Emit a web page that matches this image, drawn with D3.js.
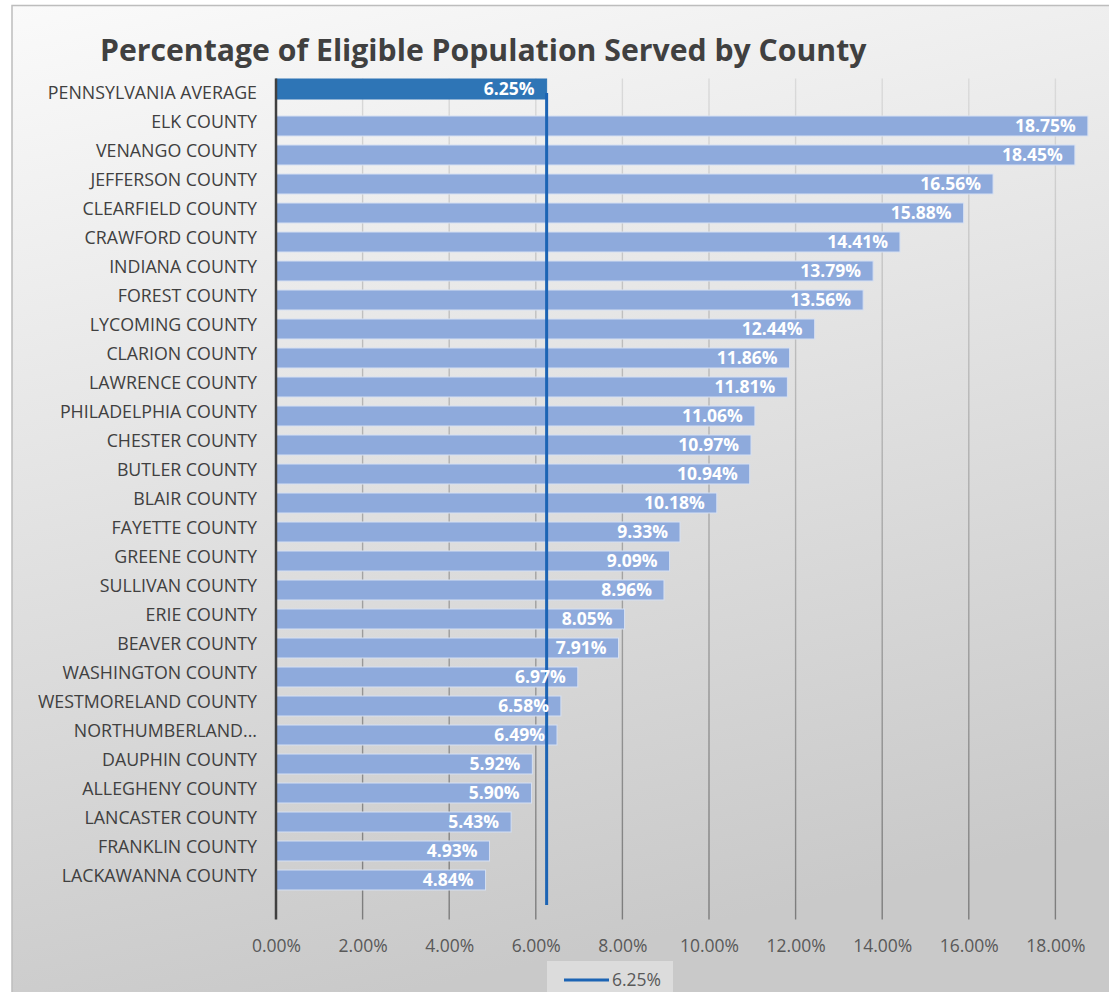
<!DOCTYPE html>
<html><head><meta charset="utf-8">
<script src="https://cdn.jsdelivr.net/npm/d3@7"></script>
<style>html,body{margin:0;padding:0;background:#fff;}svg{display:block;}</style>
</head><body>
<svg id="chart" width="1109" height="992"></svg>
<script>
// ---- data ----
const categories = ["PENNSYLVANIA AVERAGE","ELK COUNTY","VENANGO COUNTY","JEFFERSON COUNTY","CLEARFIELD COUNTY","CRAWFORD COUNTY","INDIANA COUNTY","FOREST COUNTY","LYCOMING COUNTY","CLARION COUNTY","LAWRENCE COUNTY","PHILADELPHIA COUNTY","CHESTER COUNTY","BUTLER COUNTY","BLAIR COUNTY","FAYETTE COUNTY","GREENE COUNTY","SULLIVAN COUNTY","ERIE COUNTY","BEAVER COUNTY","WASHINGTON COUNTY","WESTMORELAND COUNTY","NORTHUMBERLAND...","DAUPHIN COUNTY","ALLEGHENY COUNTY","LANCASTER COUNTY","FRANKLIN COUNTY","LACKAWANNA COUNTY"];
const averageSeries = [6.25];            // value for PENNSYLVANIA AVERAGE
const countyValues = [18.75,18.45,16.56,15.88,14.41,13.79,13.56,12.44,11.86,11.81,11.06,10.97,10.94,10.18,9.33,9.09,8.96,8.05,7.91,6.97,6.58,6.49,5.92,5.90,5.43,4.93,4.84];
const xTicks = [0,2,4,6,8,10,12,14,16,18,20];
const avgLineX = [6.25, 6.25];
const avgLineY = [28.5, 0.5];            // secondary y axis 0..29
const legendLabel = "6.25%";
const title = "Percentage of Eligible Population Served by County";

const rows = [{cat: categories[0], series: "average", value: averageSeries[0]}]
  .concat(countyValues.map((v,i)=>({cat: categories[i+1], series: "county", value: v})));

// ---- layout ----
const svg = d3.select("#chart");
const W = 1109, H = 992;
const plotLeft = 276, plotTop = 78.5, plotBottom = 919.5;
const font = "'Open Sans', 'Liberation Sans', sans-serif";

const defs = svg.append("defs");
const bg = defs.append("linearGradient").attr("id","bg").attr("x1",0).attr("y1",0).attr("x2",0.25).attr("y2",1);
bg.append("stop").attr("offset","0%").attr("stop-color","#fafafa");
bg.append("stop").attr("offset","100%").attr("stop-color","#c9c9c9");
const gg = defs.append("linearGradient").attr("id","grid").attr("gradientUnits","userSpaceOnUse")
  .attr("x1",0).attr("y1",plotTop).attr("x2",0).attr("y2",plotBottom);
gg.append("stop").attr("offset","0%").attr("stop-color","#dadada");
gg.append("stop").attr("offset","100%").attr("stop-color","#7c7c7c");

svg.append("rect").attr("x",12).attr("y",5.5).attr("width",W+20).attr("height",H+20)
  .attr("fill","url(#bg)").attr("stroke","#bdbdbd").attr("stroke-width",1.5);

const x = d3.scaleLinear().domain([0,20]).range([plotLeft, plotLeft + 20*43.3]);
const y = d3.scaleBand().domain(categories).range([plotTop, plotTop + 29*categories.length]).padding(0);
const sub = d3.scalePoint().domain(["average","county"]).range([-4,4]);
const y2 = d3.scaleLinear().domain([0,29]).range([plotBottom, plotTop]);
const barH = 20;

// title
svg.append("text").attr("x",100).attr("y",61).text(title)
  .attr("font-family",font).attr("font-weight",700).attr("font-size",30.2).attr("fill","#404040");

// x axis labels + gridlines
const xAxis = d3.axisBottom(x).tickValues(xTicks).tickFormat(d=>d3.format(".2f")(d)+"%").tickSize(0).tickPadding(0);
const gx = svg.append("g").attr("transform",`translate(0,${plotBottom})`).call(xAxis);
gx.select(".domain").remove();
gx.selectAll("text").attr("dy",null).attr("y",32).attr("font-family",font).attr("font-size",17.5).attr("fill","#595959");
svg.append("g").selectAll("line").data(xTicks.filter(d=>d>0)).join("line")
  .attr("x1",d=>x(d)).attr("x2",d=>x(d)).attr("y1",plotTop).attr("y2",plotBottom)
  .attr("stroke","url(#grid)").attr("stroke-width",1.4);

// bars
svg.append("g").selectAll("rect").data(rows).join("rect")
  .attr("x",x(0)).attr("y",d=>y(d.cat)+y.bandwidth()/2+sub(d.series)-barH/2)
  .attr("width",d=>x(d.value)-x(0)).attr("height",barH)
  .attr("fill",d=>d.series==="average"?"#2e75b6":"#8eaadc")
  .attr("stroke",d=>d.series==="average"?"#2e75b6":"#d6e0f2").attr("stroke-width",1);

// y axis line
svg.append("line").attr("x1",plotLeft).attr("x2",plotLeft).attr("y1",plotTop).attr("y2",plotBottom)
  .attr("stroke","#404040").attr("stroke-width",2.5);

// category labels
const yAxis = d3.axisLeft(y).tickSize(0).tickPadding(19);
const gy = svg.append("g").attr("transform",`translate(${plotLeft},0)`).call(yAxis);
gy.select(".domain").remove();
gy.selectAll("text").attr("font-family",font).attr("font-size",17.8).attr("fill","#404040").attr("dy","0.32em");

// average line
const line = d3.line().x(d=>x(d[0])).y(d=>y2(d[1]));
svg.append("path").datum(avgLineX.map((v,i)=>[v,avgLineY[i]])).attr("d",line)
  .attr("fill","none").attr("stroke","#1c64b4").attr("stroke-width",3);

// value labels
svg.append("g").selectAll("text").data(rows).join("text")
  .attr("x",d=>x(d.value)-12).attr("y",d=>y(d.cat)+y.bandwidth()/2+sub(d.series))
  .attr("dy","0.36em").attr("text-anchor","end")
  .attr("font-family",font).attr("font-weight",700).attr("font-size",17.5).attr("fill","#fff")
  .text(d=>d3.format(".2f")(d.value)+"%");

// legend
const lg = svg.append("g").attr("transform","translate(547,961)");
lg.append("rect").attr("width",126).attr("height",40).attr("fill","#dcdcdc");
lg.append("line").attr("x1",17).attr("x2",62).attr("y1",19).attr("y2",19).attr("stroke","#1c64b4").attr("stroke-width",3);
lg.append("text").attr("x",65).attr("y",19).attr("dy","0.35em").text(legendLabel)
  .attr("font-family",font).attr("font-size",17.5).attr("fill","#595959");
</script>
</body></html>
